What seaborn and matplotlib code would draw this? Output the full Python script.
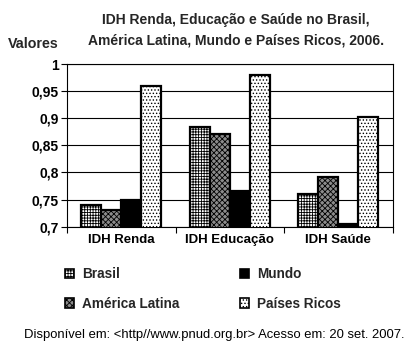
import matplotlib
matplotlib.use("Agg")
import matplotlib.pyplot as plt
from matplotlib.patches import Patch
from matplotlib.ticker import FixedLocator, FuncFormatter
import seaborn as sns
import pandas as pd

# IDH components (2006)
categorias = ["IDH Renda", "IDH Educação", "IDH Saúde"]
series = ["Brasil", "América Latina", "Mundo", "Países Ricos"]
brasil = [0.74, 0.883, 0.76]
america_latina = [0.73, 0.871, 0.792]
mundo = [0.75, 0.765, 0.705]
paises_ricos = [0.96, 0.98, 0.902]
y_ticks = [0.7, 0.75, 0.8, 0.85, 0.9, 0.95, 1.0]

valores = [brasil, america_latina, mundo, paises_ricos]
df = pd.DataFrame(
    [(c, s, v[i]) for s, v in zip(series, valores) for i, c in enumerate(categorias)],
    columns=["categoria", "serie", "valor"],
)

sns.set_theme(style="white")
plt.rcParams["font.family"] = ["Liberation Sans", "DejaVu Sans"]
plt.rcParams["hatch.linewidth"] = 0.6

# fill style per series: face colour + hatch
estilos = {
    "Brasil": ("white", "++++++"),
    "América Latina": ("#8c8c8c", "xxxxxx"),
    "Mundo": ("black", ""),
    "Países Ricos": ("white", "....."),
}

fig = plt.figure(figsize=(4.17, 3.49), dpi=100)
ax = fig.add_axes([67 / 417, 1 - 226.7 / 349, (392.5 - 67) / 417, (226.7 - 64) / 349])

sns.barplot(
    data=df, x="categoria", y="valor", hue="serie", order=categorias,
    hue_order=series, width=0.74, gap=0, ax=ax, legend=False,
    edgecolor="black", linewidth=1.6, saturation=1, zorder=3,
)
for cont, s in zip(ax.containers, series):
    face, hatch = estilos[s]
    for p in cont:
        p.set_facecolor(face)
        p.set_hatch(hatch)
        p.set_edgecolor("black")
        p.set_zorder(3)

ax.set_ylim(0.7, 1.0)
ax.set_xlim(-0.5, 2.5)
ax.yaxis.set_major_locator(FixedLocator(y_ticks))
ax.yaxis.set_major_formatter(FuncFormatter(lambda v, _: f"{v:g}".replace(".", ",")))
ax.grid(axis="y", color="black", linewidth=0.8, zorder=0)
ax.set_axisbelow(True)

# category separators as ticks, labels centred between them
ax.xaxis.set_major_locator(FixedLocator([-0.5, 0.5, 1.5, 2.5]))
ax.xaxis.set_major_formatter(FuncFormatter(lambda v, _: ""))
ax.xaxis.set_minor_locator(FixedLocator([0, 1, 2]))
ax.set_xticklabels(categorias, minor=True)
ax.tick_params(axis="x", which="major", bottom=True, length=4, width=0.8, color="black")
ax.tick_params(axis="x", which="minor", bottom=False, length=0, pad=5)
ax.tick_params(axis="y", which="major", left=True, length=4, width=0.8, color="black", pad=2)
for lab in ax.get_xticklabels(minor=True):
    lab.set_fontweight("bold")
    lab.set_fontsize(9.5)
    lab.set_color("black")
for lab in ax.get_yticklabels():
    lab.set_fontweight("bold")
    lab.set_fontsize(10)
    lab.set_color("black")
ax.set_xlabel("")
ax.set_ylabel("")
for sp in ax.spines.values():
    sp.set_visible(True)
    sp.set_color("black")
    sp.set_linewidth(0.8)

fig.text(0.565, 1 - 30 / 349, "IDH Renda, Educação e Saúde no Brasil,\nAmérica Latina, Mundo e Países Ricos, 2006.",
         ha="center", va="center", fontsize=10, fontweight="bold", linespacing=1.55)
fig.text(8 / 417, 1 - 44 / 349, "Valores", ha="left", va="center", fontsize=10.3, fontweight="bold")

# legend in two columns
def handle(s):
    face, hatch = estilos[s]
    return Patch(facecolor=face, hatch=hatch, edgecolor="black", linewidth=1.2)

kw = dict(loc="upper left", frameon=False, handlelength=0.68,
          handleheight=0.68, handletextpad=0.55, labelspacing=1.15, borderpad=0,
          borderaxespad=0, prop={"weight": "bold", "size": 9.8})
leg1 = fig.legend([handle("Brasil"), handle("América Latina")], ["Brasil", "América Latina"],
                  bbox_to_anchor=(65 / 417, 1 - 267 / 349), **kw)
leg2 = fig.legend([handle("Mundo"), handle("Países Ricos")], ["Mundo", "Países Ricos"],
                  bbox_to_anchor=(240 / 417, 1 - 267 / 349), **kw)

fig.text(0.514, 1 - 335 / 349, "Disponível em: <http//www.pnud.org.br> Acesso em: 20 set. 2007.",
         ha="center", va="center", fontsize=9.4, color="black")

fig.savefig("out.png", dpi=100, facecolor="white")
